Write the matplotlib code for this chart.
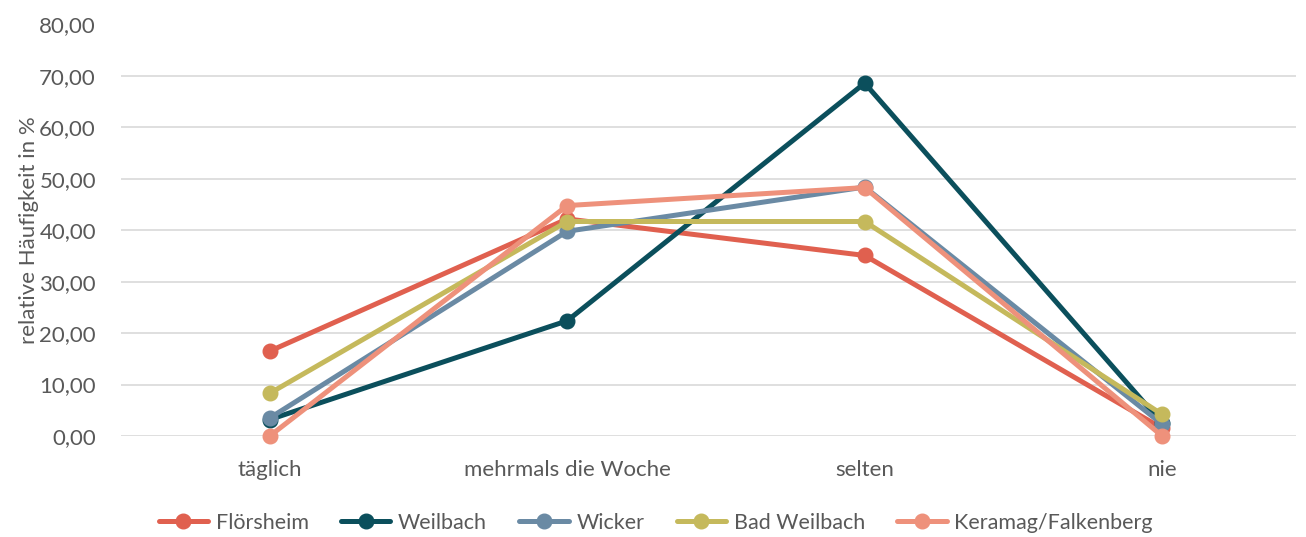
import matplotlib.pyplot as plt
from matplotlib.ticker import FuncFormatter

categories = ["täglich", "mehrmals die Woche", "selten", "nie"]
series_names = ["Flörsheim", "Weilbach", "Wicker", "Bad Weilbach", "Keramag/Falkenberg"]
floersheim = [16.5, 42.2, 35.1, 1.5]
weilbach = [3.2, 22.4, 68.6, 2.5]
wicker = [3.5, 39.8, 48.4, 2.3]
bad_weilbach = [8.3, 41.7, 41.7, 4.2]
keramag = [0.0, 44.8, 48.3, 0.0]
colors = ["#E0604F", "#0B4F5C", "#6A8AA4", "#C5B95C", "#EE917B"]

plt.rcParams['font.family'] = ['Lato', 'DejaVu Sans']

fig = plt.figure(figsize=(13.06, 5.37), dpi=100)
ax = fig.add_axes([121 / 1306, 101 / 537, 1175 / 1306, 411.5 / 537])

x = list(range(len(categories)))
for name, vals, c in zip(series_names, [floersheim, weilbach, wicker, bad_weilbach, keramag], colors):
    ax.plot(x, vals, color=c, lw=3.6, marker='o', ms=10.5, label=name,
            solid_capstyle='round', clip_on=False)

ax.set_xlim(-0.5, 3.45)
ax.set_ylim(0, 80)
ax.set_yticks(range(0, 81, 10))
ax.yaxis.set_major_formatter(FuncFormatter(lambda v, p: f"{v:.2f}".replace(".", ",")))
ax.set_xticks(x)
ax.set_xticklabels(categories)
ax.tick_params(length=0, labelsize=16, labelcolor="#595959")
ax.tick_params(axis='x', pad=17)
ax.tick_params(axis='y', pad=18)
ax.grid(axis='y', color="#D9D9D9", lw=1.2)
ax.set_axisbelow(True)
for s in ax.spines.values():
    s.set_visible(False)
ax.set_ylabel("relative Häufigkeit in %", fontsize=16, color="#595959", labelpad=0)

fig.legend(loc='lower center', bbox_to_anchor=(0.502, -0.028), ncol=5, frameon=False,
           fontsize=15.5, labelcolor="#595959", handlelength=2.3, columnspacing=1.5,
           handletextpad=0.35)

fig.savefig("out.png", dpi=100)
